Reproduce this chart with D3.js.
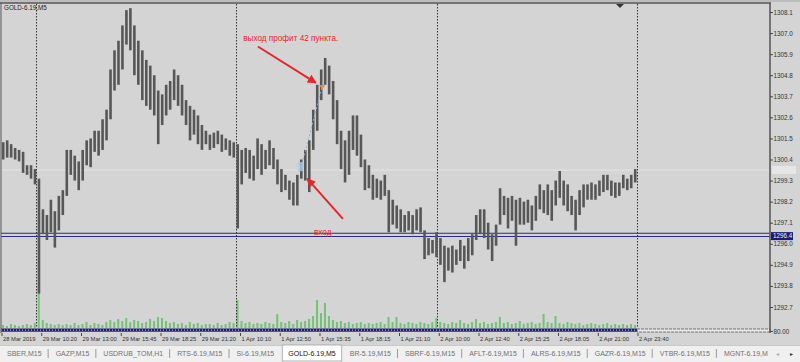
<!DOCTYPE html>
<html><head><meta charset="utf-8">
<script src="https://cdn.jsdelivr.net/npm/d3@7"></script>
<style>
body{margin:0;background:#d4d4d4;}
svg{display:block;font-family:"Liberation Sans",Arial,sans-serif;}
</style></head><body>
<svg width="800" height="362"></svg>
<script>
// bar data, one bar per ~3 M5 candles
var highs = [
 1301.3,1301.4,1301.2,1301.0,1300.9,1300.8,1300.1,1300.1,1299.9,1299.4,
 1297.8,1297.5,1298.3,1297.7,1298.5,1298.8,1300.9,1300.9,1300.6,1300.3,
 1300.9,1301.4,1301.5,1301.9,1301.9,1302.5,1303.0,1305.1,1306.1,1306.6,
 1307.4,1308.2,1308.3,1307.4,1306.6,1306.1,1305.6,1305.3,1304.8,1304.0,
 1303.8,1304.3,1304.5,1305.1,1304.8,1304.3,1303.5,1303.2,1303.0,1302.7,
 1302.2,1301.9,1301.7,1301.8,1301.9,1301.7,1301.5,1301.4,1301.3,1301.2,
 1300.9,1301.0,1300.9,1300.6,1301.5,1301.2,1300.9,1301.4,1301.0,1300.4,
 1299.9,1299.6,1299.3,1299.2,1299.6,1300.4,1300.9,1301.4,1303.0,1304.3,
 1305.1,1305.7,1305.3,1304.5,1303.5,1301.9,1301.4,1301.9,1302.7,1302.7,
 1301.7,1300.4,1300.1,1299.6,1299.4,1299.3,1299.6,1298.8,1298.3,1298.0,
 1297.8,1297.5,1297.7,1297.5,1297.8,1297.9,1296.7,1296.3,1296.2,1296.6,
 1296.3,1295.9,1295.8,1295.9,1295.7,1296.2,1295.9,1296.3,1296.5,1297.5,
 1297.8,1297.8,1297.1,1296.5,1297.0,1298.9,1298.5,1298.4,1298.5,1298.3,
 1298.4,1298.2,1298.3,1298.0,1298.5,1299.1,1298.8,1299.1,1298.8,1299.3,
 1299.8,1299.3,1299.1,1298.5,1298.3,1298.8,1299.1,1299.1,1299.2,1299.1,
 1299.3,1299.6,1299.6,1299.3,1299.2,1299.2,1299.6,1299.4,1299.6,1299.9
];
var lows = [
 1300.4,1300.5,1300.5,1300.4,1300.3,1299.7,1299.6,1299.4,1299.1,1293.4,
 1296.5,1296.2,1296.6,1295.8,1296.7,1297.5,1298.5,1299.6,1299.3,1298.8,
 1299.3,1300.1,1300.0,1300.8,1300.6,1300.9,1301.4,1302.5,1304.0,1304.3,
 1305.1,1306.4,1306.1,1304.8,1304.3,1303.5,1303.2,1303.0,1302.7,1301.2,
 1302.2,1302.7,1303.0,1303.5,1303.2,1302.7,1302.2,1301.4,1301.7,1301.2,
 1300.9,1301.2,1300.9,1301.0,1301.2,1300.8,1300.9,1300.6,1300.5,1296.8,
 1299.1,1299.7,1299.4,1299.3,1299.9,1299.6,1299.9,1300.1,1299.9,1299.1,
 1298.7,1298.8,1298.3,1298.0,1298.0,1299.4,1299.3,1298.7,1300.9,1301.9,
 1303.5,1304.3,1303.8,1302.5,1301.2,1299.9,1299.2,1299.6,1300.9,1300.6,
 1300.0,1298.8,1298.9,1298.3,1298.4,1298.3,1298.5,1296.6,1297.0,1296.8,
 1296.6,1296.6,1296.7,1296.5,1296.7,1296.6,1295.2,1295.4,1295.5,1295.3,
 1294.9,1294.0,1294.6,1294.5,1294.9,1295.1,1294.7,1295.1,1295.4,1296.2,
 1296.5,1296.3,1295.7,1295.1,1295.9,1297.0,1297.5,1296.8,1297.2,1295.9,
 1297.0,1297.0,1297.1,1296.7,1297.2,1297.8,1297.6,1297.5,1297.2,1298.0,
 1298.4,1298.0,1297.7,1297.5,1296.7,1297.5,1297.9,1298.3,1298.3,1298.3,
 1298.5,1298.7,1298.8,1298.5,1298.4,1298.5,1298.9,1298.8,1298.9,1299.2
];
var volumes = [
 30,20,40,30,20,30,40,30,50,420,
 80,50,40,30,40,30,40,30,50,30,
 40,60,30,50,40,30,60,80,60,90,
 70,100,60,80,70,50,60,90,70,110,
 100,70,50,60,40,50,30,60,40,50,
 30,40,40,30,50,30,40,60,50,280,
 70,50,60,40,50,40,60,50,40,140,
 60,50,70,40,80,60,70,90,120,280,
 150,250,120,80,60,70,50,60,40,50,
 60,40,50,40,50,60,40,110,60,110,
 50,40,60,50,40,60,50,40,60,100,
 60,50,40,60,50,80,50,40,60,90,
 50,60,40,50,60,110,50,60,40,50,
 70,40,50,60,40,50,140,60,50,120,
 50,40,60,50,40,50,30,40,50,40,
 30,40,50,30,40,30,40,30,40,30
];
var timeLabels = ["28 Mar 2019","29 Mar 10:20","29 Mar 13:00","29 Mar 15:45","29 Mar 18:25",
  "29 Mar 21:20","1 Apr 10:10","1 Apr 12:50","1 Apr 15:35","1 Apr 18:15","1 Apr 21:10",
  "2 Apr 10:00","2 Apr 12:40","2 Apr 15:25","2 Apr 18:05","2 Apr 21:00","2 Apr 23:40"];
var priceTicks = [1308.1,1307.0,1305.9,1304.8,1303.7,1302.6,1301.5,1300.4,1299.3,1298.2,1297.1,1296.0,1294.9,1293.8,1292.7];
var dayStarts = [8.7, 59, 109.6, 159.9];
var levels = [1296.55, 1296.38];
var levelLabel = 1296.4;
var bidPrice = 1299.85;
var trade = {openIdx: 75, openPrice: 1300.0, closeIdx: 80.3, closePrice: 1304.2};
var tabs = ["SBER,M15","GAZP,M15","USDRUB_TOM,H1","RTS-6.19,M15","Si-6.19,M15","GOLD-6.19,M5",
  "BR-5.19,M15","SBRF-6.19,M15","AFLT-6.19,M15","ALRS-6.19,M15","GAZR-6.19,M15","VTBR-6.19,M15","MGNT-6.19,M"];
var activeTab = "GOLD-6.19,M5";

var svg = d3.select("svg");
var red = "#e3262c";

var x = d3.scaleLinear().domain([0, 160]).range([1.5, 637.5]);
var y = d3.scaleLinear().domain([1292.7, 1308.1]).range([307, 12]);
var vol = d3.scaleLinear().domain([0, 500]).range([328, 278]);

// background and frame
svg.append("rect").attr("width", 800).attr("height", 362).attr("fill", "#d4d4d4");
svg.append("rect").attr("x", 0).attr("y", 0).attr("width", 800).attr("height", 2).attr("fill", "#bdbdbd");

// volumes
svg.append("g").selectAll("rect").data(volumes).enter().append("rect")
  .attr("x", function(d, i) { return x(i) + 0.5; })
  .attr("width", 2)
  .attr("y", function(d) { return vol(d); })
  .attr("height", function(d) { return 328 - vol(d); })
  .attr("fill", "#72c472");

// bid line
svg.append("line").attr("x1", 1).attr("x2", 770).attr("y1", y(bidPrice)).attr("y2", y(bidPrice))
  .attr("stroke", "#e4e4e4").attr("stroke-width", 1);

// day separators
svg.append("g").selectAll("line").data(dayStarts).enter().append("line")
  .attr("x1", function(d) { return Math.round(x(d)) + 0.5; })
  .attr("x2", function(d) { return Math.round(x(d)) + 0.5; })
  .attr("y1", 4).attr("y2", 328)
  .attr("stroke", "#333").attr("stroke-dasharray", "1.5,1.5");

// horizontal levels
svg.append("g").selectAll("line").data(levels).enter().append("line")
  .attr("x1", 1).attr("x2", 770)
  .attr("y1", function(d) { return y(d); }).attr("y2", function(d) { return y(d); })
  .attr("stroke", "#2a2a80").attr("stroke-width", 1.2);

// price bars
svg.append("g").selectAll("rect").data(highs).enter().append("rect")
  .attr("x", function(d, i) { return x(i) + 0.4; })
  .attr("width", 2.6)
  .attr("y", function(d) { return y(d); })
  .attr("height", function(d, i) { return Math.max(1, y(lows[i]) - y(d)); })
  .attr("fill", "#575757");

// trade line and markers
svg.append("line")
  .attr("x1", x(trade.openIdx) + 1.5).attr("y1", y(trade.openPrice))
  .attr("x2", x(trade.closeIdx) + 1.5).attr("y2", y(trade.closePrice))
  .attr("stroke", "#7db8e8").attr("stroke-dasharray", "2,2");
svg.append("rect").attr("x", x(trade.openIdx) - 2).attr("y", y(trade.openPrice) - 5)
  .attr("width", 6).attr("height", 9).attr("fill", "#a9cde6").attr("opacity", 0.8);
svg.append("path")
  .attr("d", d3.symbol().type(d3.symbolTriangle).size(14))
  .attr("transform", "translate(" + (x(trade.closeIdx) + 1.5) + "," + y(trade.closePrice) + ") rotate(180)")
  .attr("fill", "#f08a3c");

// bottom band (indicator window)
var endX = x(dayStarts[3]);
svg.append("rect").attr("x", 1).attr("y", 328.5).attr("width", endX - 1).attr("height", 3.2).attr("fill", "#1f1f6e");
svg.append("line").attr("x1", 1).attr("x2", endX).attr("y1", 330.1).attr("y2", 330.1)
  .attr("stroke", "#d8d8f0").attr("stroke-dasharray", "1,2");
svg.append("rect").attr("x", endX).attr("y", 329).attr("width", 770 - endX).attr("height", 3)
  .attr("fill", "#e8e8e8").attr("stroke", "#555").attr("stroke-width", 0.8).attr("stroke-dasharray", "3,1");

// frame lines
svg.append("line").attr("x1", 0).attr("x2", 771).attr("y1", 3).attr("y2", 3).attr("stroke", "#555").attr("stroke-width", 1.5);
svg.append("line").attr("x1", 1).attr("x2", 1).attr("y1", 3).attr("y2", 333).attr("stroke", "#555");
svg.append("line").attr("x1", 770).attr("x2", 770).attr("y1", 3).attr("y2", 333).attr("stroke", "#555").attr("stroke-width", 1.5);

// shift marker
svg.append("path").attr("d", "M616,4L624,4L620,8Z").attr("fill", "#333");

// price axis
var yAxis = svg.append("g").attr("transform", "translate(770,0)")
  .call(d3.axisRight(y).tickValues(priceTicks).tickSize(3).tickFormat(d3.format(".1f")));
yAxis.select(".domain").remove();
yAxis.selectAll("line").attr("stroke", "#444");
yAxis.selectAll("text").attr("x", 3.5).attr("font-size", 6.3).attr("fill", "#333")
  .attr("font-family", "Liberation Sans, Arial, sans-serif");

// bid label box
svg.append("rect").attr("x", 772).attr("y", y(bidPrice) - 4).attr("width", 24).attr("height", 8).attr("fill", "#e6e6e6");

// level label
svg.append("rect").attr("x", 771).attr("y", y(levelLabel) - 4).attr("width", 22).attr("height", 8).attr("fill", "#1b1b72");
svg.append("text").attr("x", 773).attr("y", y(levelLabel) + 2.2).attr("font-size", 6.3).attr("fill", "#f0f0f0")
  .text(d3.format(".1f")(levelLabel));

// indicator level label
svg.append("line").attr("x1", 770).attr("x2", 773).attr("y1", 331.5).attr("y2", 331.5).attr("stroke", "#444");
svg.append("text").attr("x", 773.5).attr("y", 334).attr("font-size", 6.3).attr("fill", "#333").text("80.00");

// time axis
var xAxis = svg.append("g").attr("transform", "translate(0,333)")
  .call(d3.axisBottom(x).tickValues(d3.range(0, 161, 10)).tickSize(3)
    .tickFormat(function(d) { return timeLabels[d / 10]; }));
xAxis.select(".domain").remove();
xAxis.selectAll("line").attr("stroke", "#444");
xAxis.selectAll("text").attr("text-anchor", "start").attr("x", 1).attr("y", 4).attr("dy", "0.71em")
  .attr("font-size", 5.8).attr("fill", "#333").attr("font-family", "Liberation Sans, Arial, sans-serif");

// symbol label
svg.append("text").attr("x", 4).attr("y", 10).attr("font-size", 6.3).attr("fill", "#222").text("GOLD-6.19,M5");

// annotations
var defs = svg.append("defs");
defs.append("marker").attr("id", "ah").attr("viewBox", "0 0 10 10").attr("refX", 9).attr("refY", 5)
  .attr("markerWidth", 4.5).attr("markerHeight", 4.5).attr("orient", "auto")
  .append("path").attr("d", "M0,0L10,5L0,10Z").attr("fill", red);

var arrows = [
  {from: [64.5, 1306.3], to: [79.1, 1304.4]},
  {from: [85.9, 1297.3], to: [76.9, 1299.4]}
];
svg.append("g").selectAll("line").data(arrows).enter().append("line")
  .attr("x1", function(d) { return x(d.from[0]); }).attr("y1", function(d) { return y(d.from[1]); })
  .attr("x2", function(d) { return x(d.to[0]); }).attr("y2", function(d) { return y(d.to[1]); })
  .attr("stroke", red).attr("stroke-width", 2).attr("marker-end", "url(#ah)");

svg.append("text").attr("x", x(60.8)).attr("y", y(1306.6)).attr("font-size", 8.2).attr("fill", red)
  .text("выход профит 42 пункта.");
svg.append("text").attr("x", x(78.6)).attr("y", y(1296.45)).attr("font-size", 8.2).attr("fill", red)
  .text("вход");

// tab strip
var tabG = svg.append("g").attr("transform", "translate(0,345)");
tabG.append("rect").attr("width", 800).attr("height", 17).attr("fill", "#f0f0f0");
tabG.append("line").attr("x1", 0).attr("x2", 800).attr("y1", 0.5).attr("y2", 0.5).attr("stroke", "#c8c8c8");
var tx = 7;
tabs.forEach(function(t, i) {
  var txt = tabG.append("text").attr("x", tx).attr("y", 11).attr("font-size", 7)
    .attr("fill", t === activeTab ? "#111" : "#707070").text(t);
  var w = txt.node().getComputedTextLength();
  if (t === activeTab) {
    tabG.insert("rect", "text").attr("x", tx - 6).attr("y", 0).attr("width", w + 12).attr("height", 16)
      .attr("fill", "#fff").attr("stroke", "#a0a0a0").attr("stroke-width", 0.8);
  } else if (i < tabs.length - 1 && tabs[i + 1] !== activeTab) {
    tabG.append("line").attr("x1", tx + w + 6.5).attr("x2", tx + w + 6.5).attr("y1", 4).attr("y2", 13)
      .attr("stroke", "#9a9a9a");
  }
  tx = tx + w + 14;
});
tabG.append("text").attr("x", 776).attr("y", 10.5).attr("font-size", 6).attr("fill", "#aaa").text("◂");
tabG.append("text").attr("x", 790).attr("y", 10.5).attr("font-size", 6).attr("fill", "#333").text("▸");
</script>
</body></html>
